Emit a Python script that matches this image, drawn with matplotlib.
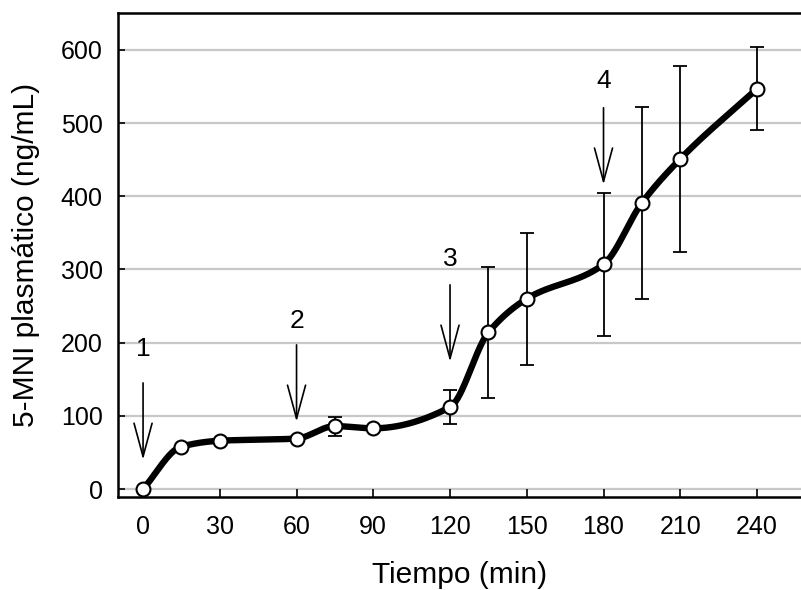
import numpy as np
import matplotlib
matplotlib.use("Agg")
import matplotlib.pyplot as plt

plt.rcParams['font.family'] = ['Liberation Sans', 'DejaVu Sans']

# datos
tiempo = [0, 15, 30, 60, 75, 90, 120, 135, 150, 180, 195, 210, 240]
conc = [0, 58, 66, 69, 86, 83, 112, 214, 260, 307, 391, 451, 547]
error = [0, 0, 0, 0, 13, 0, 23, 89, 90, 98, 131, 127, 57]

dosis_t = [0, 60, 120, 180]
dosis_lab = ['1', '2', '3', '4']
dosis_y = [145, 197, 279, 521]   # inicio de la flecha
dosis_txt = [192, 230, 314, 557]

x_ticks = [0, 30, 60, 90, 120, 150, 180, 210, 240]
y_ticks = [0, 100, 200, 300, 400, 500, 600]


def pchip(x, y, xs):
    # interpolacion cubica monotona (Fritsch-Carlson)
    x = np.asarray(x, float)
    y = np.asarray(y, float)
    h = np.diff(x)
    d = np.diff(y) / h
    n = len(x)
    m = np.zeros(n)
    for k in range(1, n - 1):
        if d[k - 1] * d[k] <= 0:
            m[k] = 0.0
        else:
            w1 = 2 * h[k] + h[k - 1]
            w2 = h[k] + 2 * h[k - 1]
            m[k] = (w1 + w2) / (w1 / d[k - 1] + w2 / d[k])
    m[0] = d[0]
    m[-1] = d[-1]
    out = np.empty_like(xs)
    for i, xv in enumerate(xs):
        k = min(np.searchsorted(x, xv, side='right') - 1, n - 2)
        k = max(k, 0)
        t = (xv - x[k]) / h[k]
        h00 = 2 * t**3 - 3 * t**2 + 1
        h10 = t**3 - 2 * t**2 + t
        h01 = -2 * t**3 + 3 * t**2
        h11 = t**3 - t**2
        out[i] = h00 * y[k] + h10 * h[k] * m[k] + h01 * y[k + 1] + h11 * h[k] * m[k + 1]
    return out


fig = plt.figure(figsize=(8.01, 5.90), dpi=100)
ax = fig.add_axes([0.1473, 0.1576, 0.8527, 0.8204])

for yt in y_ticks:
    ax.axhline(yt, color='#c8c8c8', lw=1.6, zorder=0)

xs = np.linspace(0, 240, 600)
ax.plot(xs, pchip(tiempo, conc, xs), color='black', lw=4.6, zorder=2, solid_capstyle='round')

ax.errorbar(tiempo, conc, yerr=error, fmt='none', ecolor='black', elinewidth=1.3,
            capsize=4.8, capthick=1.3, zorder=3)
ax.plot(tiempo, conc, 'o', ms=10, mfc='white', mec='black', mew=1.5, zorder=4)

for t, lab, y0, yt in zip(dosis_t, dosis_lab, dosis_y, dosis_txt):
    ax.annotate('', xy=(t, y0 - 105), xytext=(t, y0),
                arrowprops=dict(arrowstyle='->,head_length=2.4,head_width=0.65',
                                color='black', lw=1.2, shrinkA=0, shrinkB=0))
    ax.text(t, yt, lab, ha='center', va='center', fontsize=19)

ax.set_xlim(-9.8, 257.2)
ax.set_ylim(-10.9, 650.5)
ax.set_xticks(x_ticks)
ax.set_yticks(y_ticks)
ax.tick_params(direction='in', length=6, width=1.2, labelsize=18, pad=13)
ax.tick_params(axis='y', length=5, pad=11)

for s in ['left', 'bottom', 'top']:
    ax.spines[s].set_linewidth(1.8)
ax.spines['right'].set_visible(False)

ax.set_xlabel('Tiempo (min)', fontsize=21.5, labelpad=16)
ax.set_ylabel('5-MNI plasmático (ng/mL)', fontsize=21.5, labelpad=15)

fig.savefig('out.png', dpi=100)
